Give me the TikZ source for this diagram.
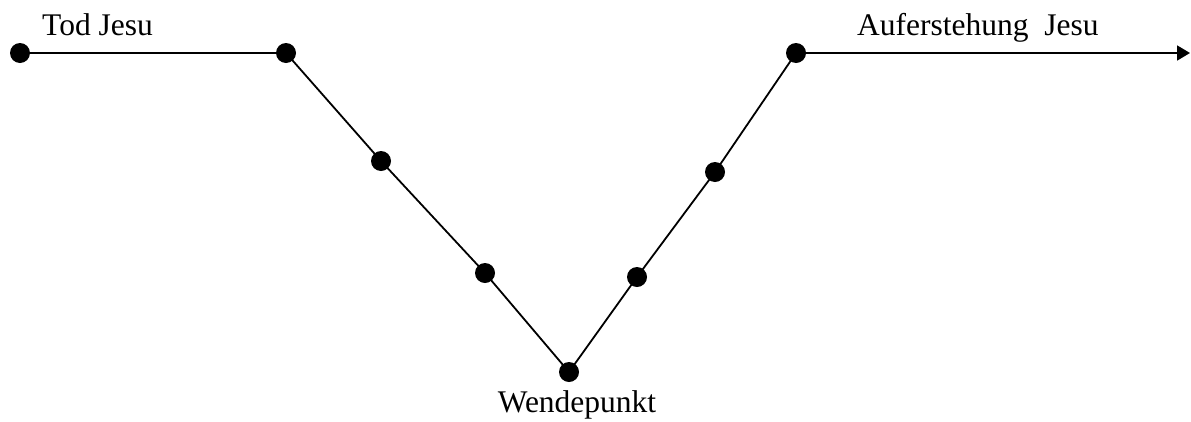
\documentclass[tikz,border=0pt]{standalone}
\usepackage{fontspec}
\setmainfont{Liberation Serif}
\usetikzlibrary{arrows.meta}
\begin{document}
\begin{tikzpicture}[x=1pt,y=-1pt,
  dot/.style={circle,fill=black,inner sep=0pt,minimum size=20pt},
  lbl/.style={font=\fontsize{31.5}{36}\selectfont,inner sep=0pt},
  path/.style={line width=1.8pt}]
\useasboundingbox (0,0) rectangle (1191,421);
\node[dot] (p1) at (20,53) {};
\node[dot] (p2) at (286,53) {};
\node[dot] (p3) at (381,161) {};
\node[dot] (p4) at (485,273) {};
\node[dot] (p5) at (569,372) {};
\node[dot] (p6) at (637,277) {};
\node[dot] (p7) at (715,172) {};
\node[dot] (p8) at (796,53) {};
\coordinate (end) at (1190,53);
\draw[path] (p1.center) -- (p2.center) -- (p3.center) -- (p4.center) -- (p5.center)
  -- (p6.center) -- (p7.center) -- (p8.center);
\draw[path,-{Triangle[length=13pt,width=15pt]}] (p8.center) -- (end);
\node[lbl,anchor=base west] (t1) at (42,35) {Tod Jesu};
\node[lbl,anchor=base west] (t2) at (857,35) {Auferstehung\ \ Jesu};
\node[lbl,anchor=base] (t3) at (577,412) {Wendepunkt};
\end{tikzpicture}
\end{document}
